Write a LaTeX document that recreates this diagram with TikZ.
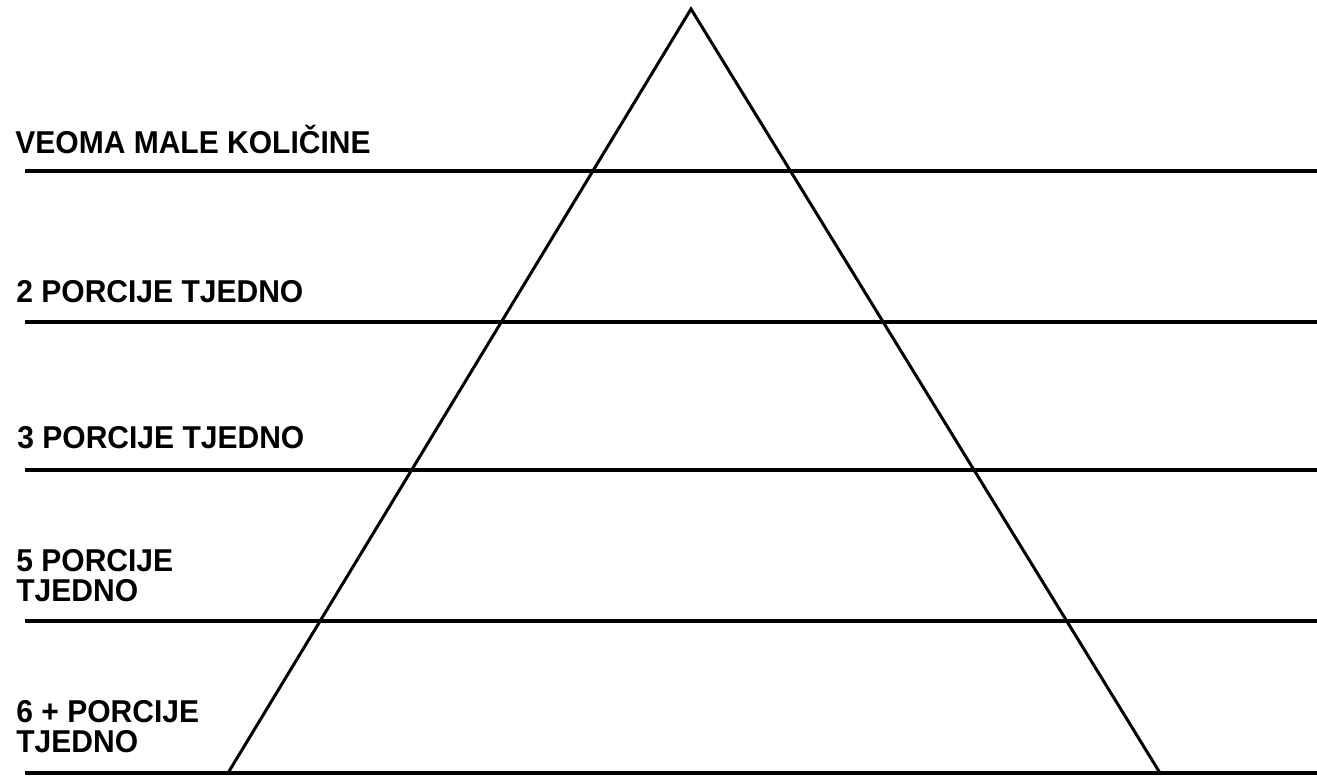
\documentclass[tikz,border=0pt]{standalone}
\usepackage{fontspec}
\usepackage{tikz}
\usetikzlibrary{positioning}
\newfontfamily\lblfont{Liberation Sans}[FakeStretch=0.95]
\tikzset{
  lbl/.style={anchor=base west,inner sep=0pt,align=left,
    font=\lblfont\bfseries\fontsize{15.8pt}{14.8pt}\selectfont},
  level/.style={line width=2pt,black},
  side/.style={line width=1.5pt,black,line join=miter}
}

\begin{document}
\begin{tikzpicture}[x=0.5pt,y=-0.5pt]
  \useasboundingbox (0,0) rectangle (1317,776);

  % pyramid outline
  \coordinate (top) at (691,9);
  \coordinate (bl) at (228,773);
  \coordinate (br) at (1160,773);
  \draw[side] (bl) -- (top) -- (br);

  % level lines, full width
  \coordinate (a1) at (25,171);  \coordinate (b1) at (1317,171);
  \coordinate (a2) at (25,322);  \coordinate (b2) at (1317,322);
  \coordinate (a3) at (25,470);  \coordinate (b3) at (1317,470);
  \coordinate (a4) at (25,621);  \coordinate (b4) at (1317,621);
  \coordinate (a5) at (25,773);  \coordinate (b5) at (1317,773);
  \draw[level] (a1) -- (b1);
  \draw[level] (a2) -- (b2);
  \draw[level] (a3) -- (b3);
  \draw[level] (a4) -- (b4);
  \draw[level] (a5) -- (b5);

  % labels, one above each line (two-line ones sit on their last line)
  \node[lbl] (veoma) at (15,153) {VEOMA MALE KOLIČINE};
  \node[lbl] (dvije) at (16,302) {2 PORCIJE TJEDNO};
  \node[lbl] (tri)   at (17,448) {3 PORCIJE TJEDNO};
  \node[lbl] (pet)   at (16,601) {5 PORCIJE\\TJEDNO};
  \node[lbl] (sest)  at (16,752) {6 + PORCIJE\\TJEDNO};
\end{tikzpicture}
\end{document}
